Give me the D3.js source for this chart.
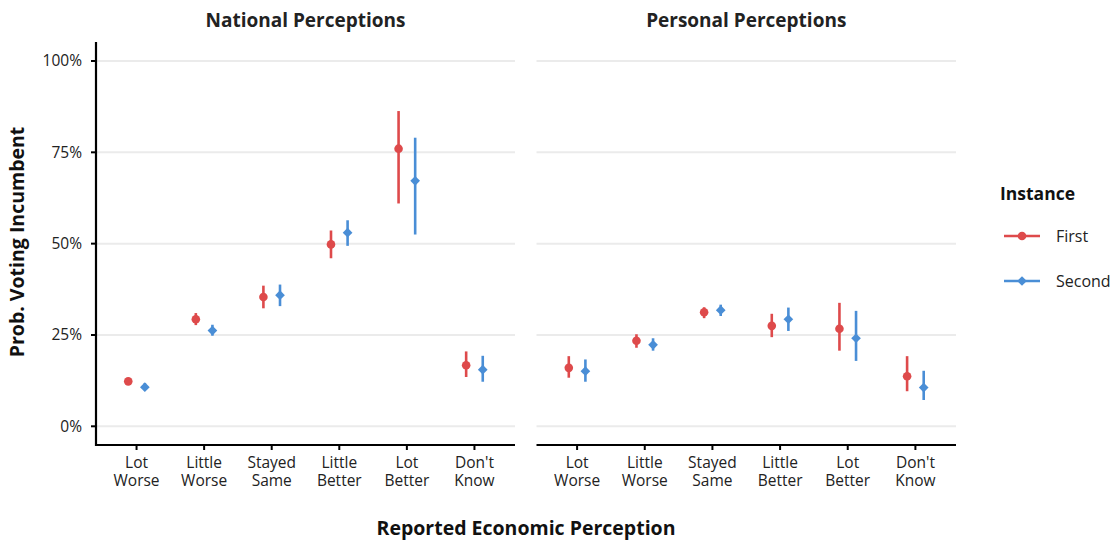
<!DOCTYPE html>
<html><head><meta charset="utf-8">
<script src="https://cdn.jsdelivr.net/npm/d3@7/dist/d3.min.js"></script>
<style>body{margin:0;background:#fff;}svg{font-family:"Open Sans",Lato,sans-serif;}</style>
</head><body><svg id="c" width="1118" height="543"></svg>
<script>
const categories = ["Lot\nWorse","Little\nWorse","Stayed\nSame","Little\nBetter","Lot\nBetter","Don't\nKnow"];
const panels = ["National Perceptions","Personal Perceptions"];
const series = ["First","Second"];
const yTicks = [0,0.25,0.5,0.75,1];
// National: estimate, lower, upper
const natFirst  = [0.123,0.293,0.354,0.498,0.760,0.167];
const natFirstLo= [0.114,0.277,0.323,0.460,0.610,0.135];
const natFirstHi= [0.132,0.310,0.385,0.536,0.863,0.205];
const natSecond  = [0.107,0.262,0.359,0.530,0.672,0.155];
const natSecondLo= [0.099,0.248,0.329,0.494,0.525,0.122];
const natSecondHi= [0.118,0.278,0.388,0.564,0.790,0.193];
// Personal
const perFirst  = [0.160,0.234,0.312,0.275,0.267,0.137];
const perFirstLo= [0.133,0.215,0.296,0.244,0.207,0.096];
const perFirstHi= [0.192,0.252,0.326,0.308,0.338,0.192];
const perSecond  = [0.151,0.223,0.318,0.293,0.241,0.106];
const perSecondLo= [0.122,0.207,0.302,0.261,0.179,0.072];
const perSecondHi= [0.183,0.241,0.333,0.325,0.316,0.152];

const data = [
  [ {est:natFirst,lo:natFirstLo,hi:natFirstHi}, {est:natSecond,lo:natSecondLo,hi:natSecondHi} ],
  [ {est:perFirst,lo:perFirstLo,hi:perFirstHi}, {est:perSecond,lo:perSecondLo,hi:perSecondHi} ]
];
const colors = ["#DE4A4B","#4A8ED6"];

const svg = d3.select("#c");
const y = d3.scaleLinear().domain([0,1]).range([426.3,61]);
const panelX = [[96,515],[536.5,956]];
const axTop = 42, axBottom = 445;
const catIdx = d3.range(categories.length);

panelX.forEach((px,p)=>{
  const x = d3.scaleLinear().domain([-0.6,categories.length-1+0.6]).range(px);
  const g = svg.append("g");
  g.selectAll("line.grid").data(yTicks).join("line")
    .attr("x1",px[0]).attr("x2",px[1])
    .attr("y1",d=>y(d)).attr("y2",d=>y(d))
    .attr("stroke","#ebebeb").attr("stroke-width",2);
  g.append("line").attr("x1",px[0]).attr("x2",px[1]).attr("y1",axBottom).attr("y2",axBottom)
    .attr("stroke","#000").attr("stroke-width",2.2);
  const tk = g.selectAll("g.tk").data(catIdx).join("g").attr("transform",i=>`translate(${x(i)},0)`);
  tk.append("line").attr("y1",axBottom).attr("y2",axBottom+5).attr("stroke","#000").attr("stroke-width",2);
  tk.append("text").attr("text-anchor","middle").attr("font-size",15.5).attr("fill","#222")
    .selectAll("tspan").data(i=>categories[i].split("\n")).join("tspan")
    .attr("x",0).attr("y",(d,j)=>468+j*18).text(d=>d);
  svg.append("text").attr("x",(px[0]+px[1])/2).attr("y",27).attr("text-anchor","middle")
    .attr("font-size",19).attr("font-weight","bold").attr("fill","#222").text(panels[p]);
  const dodge = 8.3;
  data[p].forEach((s,si)=>{
    const off = si===0?-dodge:dodge;
    const sg = g.append("g");
    sg.selectAll("line.eb").data(catIdx).join("line")
      .attr("x1",i=>x(i)+off).attr("x2",i=>x(i)+off)
      .attr("y1",i=>y(s.lo[i])).attr("y2",i=>y(s.hi[i]))
      .attr("stroke",colors[si]).attr("stroke-width",2.6);
    if(si===0){
      sg.selectAll("circle").data(catIdx).join("circle")
        .attr("cx",i=>x(i)+off).attr("cy",i=>y(s.est[i])).attr("r",4.3).attr("fill",colors[si]);
    } else {
      sg.selectAll("path").data(catIdx).join("path")
        .attr("d",d3.symbol(d3.symbolDiamond2,60))
        .attr("transform",i=>`translate(${x(i)+off},${y(s.est[i])})`).attr("fill",colors[si]);
    }
  });
});

svg.append("line").attr("x1",96).attr("x2",96).attr("y1",axTop).attr("y2",axBottom+1)
  .attr("stroke","#000").attr("stroke-width",2.2);
svg.selectAll("g.yt").data(yTicks).join("g").attr("transform",d=>`translate(0,${y(d)})`)
  .call(g=>{
    g.append("line").attr("x1",91).attr("x2",96).attr("stroke","#000").attr("stroke-width",2);
    g.append("text").attr("x",82).attr("dy","0.35em").attr("text-anchor","end").attr("font-size",15.5)
      .attr("fill","#222").text(d=>d3.format(".0%")(d));
  });
svg.append("text").attr("transform","translate(24,242) rotate(-90)").attr("text-anchor","middle")
  .attr("font-size",19.5).attr("font-weight","bold").attr("fill","#111").text("Prob. Voting Incumbent");
svg.append("text").attr("x",526).attr("y",535).attr("text-anchor","middle")
  .attr("font-size",19.5).attr("font-weight","bold").attr("fill","#111").text("Reported Economic Perception");

const lg = svg.append("g");
lg.append("text").attr("x",1000).attr("y",200).attr("font-size",17.5).attr("font-weight","bold").attr("fill","#111").text("Instance");
series.forEach((s,i)=>{
  const yy = 236 + i*45;
  lg.append("line").attr("x1",1004).attr("x2",1040).attr("y1",yy).attr("y2",yy).attr("stroke",colors[i]).attr("stroke-width",2.6);
  if(i===0) lg.append("circle").attr("cx",1022).attr("cy",yy).attr("r",4.3).attr("fill",colors[i]);
  else lg.append("path").attr("d",d3.symbol(d3.symbolDiamond2,60)).attr("transform",`translate(1022,${yy})`).attr("fill",colors[i]);
  lg.append("text").attr("x",1056).attr("y",yy).attr("dy","0.35em").attr("font-size",16).attr("fill","#222").text(s);
});
</script></body></html>
